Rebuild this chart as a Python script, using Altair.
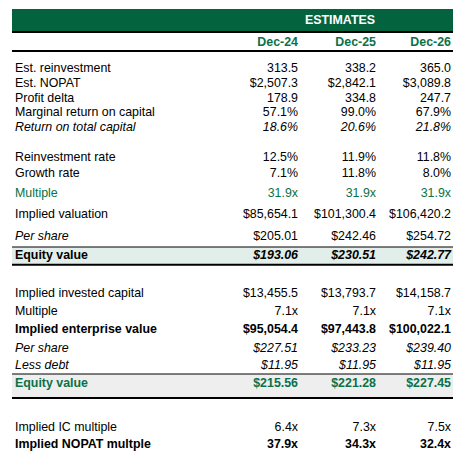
import altair as alt
import pandas as pd

# ---------------- data ----------------
years = ["Dec-24", "Dec-25", "Dec-26"]
group_title = "ESTIMATES"
labels = ["Est. reinvestment", "Est. NOPAT", "Profit delta", "Marginal return on capital",
          "Return on total capital", "Reinvestment rate", "Growth rate", "Multiple",
          "Implied valuation", "Per share", "Equity value", "Implied invested capital",
          "Multiple", "Implied enterprise value", "Per share", "Less debt", "Equity value",
          "Implied IC multiple", "Implied NOPAT multple"]
dec24 = ["313.5", "$2,507.3", "178.9", "57.1%", "18.6%", "12.5%", "7.1%", "31.9x",
         "$85,654.1", "$205.01", "$193.06", "$13,455.5", "7.1x", "$95,054.4", "$227.51",
         "$11.95", "$215.56", "6.4x", "37.9x"]
dec25 = ["338.2", "$2,842.1", "334.8", "99.0%", "20.6%", "11.9%", "11.8%", "31.9x",
         "$101,300.4", "$242.46", "$230.51", "$13,793.7", "7.1x", "$97,443.8", "$233.23",
         "$11.95", "$221.28", "7.3x", "34.3x"]
dec26 = ["365.0", "$3,089.8", "247.7", "67.9%", "21.8%", "11.8%", "8.0%", "31.9x",
         "$106,420.2", "$254.72", "$242.77", "$14,158.7", "7.1x", "$100,022.1", "$239.40",
         "$11.95", "$227.45", "7.5x", "32.4x"]

# ---------------- styles / layout ----------------
label_style = ["n", "n", "n", "n", "i", "n", "n", "n", "n", "i", "b", "n", "n", "b", "i", "i", "b", "n", "b"]
value_style = ["n", "n", "n", "n", "i", "n", "n", "n", "n", "n", "bi", "n", "n", "b", "i", "i", "b", "n", "b"]
green_rows = [7, 16]
row_y = [68.3, 83.3, 97.7, 112.3, 126.7, 157.3, 172.7, 193.3, 214.3, 235.8, 254.6,
         293.3, 311.0, 329.0, 347.7, 365.0, 382.6, 426.7, 444.0]
label_x = 15
col_x = [298, 376, 451]
header_title_x = 340
header_title_y = 20
header_year_y = 42

GREEN = "#04633F"
TXT_GREEN = "#0A7149"
FONT = "Liberation Sans"
FS = 12.4
W, H = 453, 449

xs = alt.Scale(domain=[8, 8 + W], range=[0, W])
ys = alt.Scale(domain=[8, 8 + H], range=[0, H])

# cells
rows = []
for i, lab in enumerate(labels):
    col = TXT_GREEN if i in green_rows else "#000000"
    rows.append(dict(x=label_x, y=row_y[i], t=lab, s=label_style[i], a="left", c=col))
    for j, vals in enumerate([dec24, dec25, dec26]):
        rows.append(dict(x=col_x[j], y=row_y[i], t=vals[i], s=value_style[i], a="right", c=col))
for j, yr in enumerate(years):
    rows.append(dict(x=col_x[j], y=header_year_y, t=yr, s="b", a="right", c=TXT_GREEN))
rows.append(dict(x=header_title_x, y=header_title_y, t=group_title, s="b", a="center", c="#FFFFFF"))
cells = pd.DataFrame(rows)

rects = pd.DataFrame([
    dict(x=12, x2=453, y=9, y2=31.5, c=GREEN),
    dict(x=12, x2=453, y=247, y2=264, c="#E1EEE9"),
    dict(x=12, x2=453, y=374, y2=397.5, c="#EEEEEE"),
])
rules = pd.DataFrame([
    dict(x=12, x2=453, y=32, w=2),
    dict(x=12, x2=453, y=51, w=2),
    dict(x=12, x2=453, y=247, w=1),
    dict(x=12, x2=453, y=264.7, w=2),
    dict(x=12, x2=453, y=374, w=1),
    dict(x=12, x2=453, y=398, w=2),
])

rect_layer = alt.Chart(rects).mark_rect().encode(
    x=alt.X("x:Q", scale=xs, axis=None), x2="x2:Q",
    y=alt.Y("y:Q", scale=ys, axis=None), y2="y2:Q",
    color=alt.Color("c:N", scale=None),
)
rule_layer = alt.Chart(rules).mark_rule(color="#000000").encode(
    x=alt.X("x:Q", scale=xs, axis=None), x2="x2:Q",
    y=alt.Y("y:Q", scale=ys, axis=None),
    strokeWidth=alt.StrokeWidth("w:Q", scale=None),
)

style_map = {"n": ("normal", "normal"), "i": ("normal", "italic"),
             "b": ("bold", "normal"), "bi": ("bold", "italic")}
text_layers = []
for (s, a), sub in cells.groupby(["s", "a"]):
    weight, fstyle = style_map[s]
    text_layers.append(
        alt.Chart(sub).mark_text(align=a, baseline="middle", font=FONT, fontSize=FS,
                                 fontWeight=weight, fontStyle=fstyle).encode(
            x=alt.X("x:Q", scale=xs, axis=None),
            y=alt.Y("y:Q", scale=ys, axis=None),
            text="t:N",
            color=alt.Color("c:N", scale=None),
        )
    )

chart = alt.layer(rect_layer, rule_layer, *text_layers).properties(
    width=W, height=H, padding=0, autosize=alt.AutoSizeParams(type="none")
).configure_view(stroke=None)

chart.save("out.html", embed_options={"renderer": "svg", "actions": False})
